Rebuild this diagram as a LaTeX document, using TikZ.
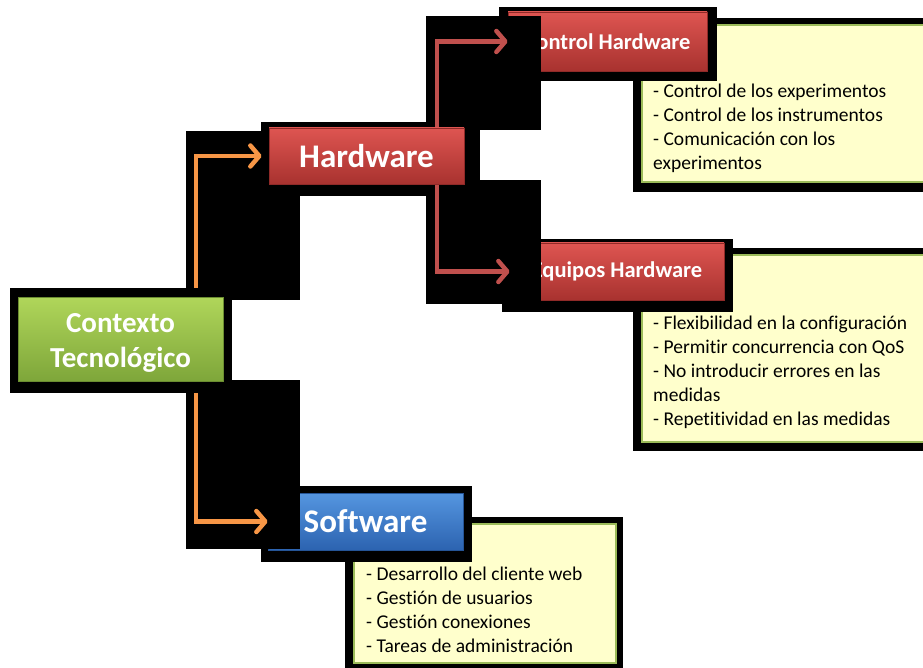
\documentclass[tikz,border=0pt]{standalone}
\usepackage{fontspec}
\setmainfont{Carlito}[RawFeature={-liga;-clig;-calt}]
\usetikzlibrary{arrows.meta}
\definecolor{ctxtop}{HTML}{B0D65A}
\definecolor{ctxbot}{HTML}{7EA63A}
\definecolor{hwtop}{HTML}{DE5551}
\definecolor{hwbot}{HTML}{A8322F}
\definecolor{swtop}{HTML}{5596E0}
\definecolor{swbot}{HTML}{2C63B0}
\definecolor{notefill}{HTML}{FFFFCC}
\definecolor{noteline}{HTML}{9BBB59}
\definecolor{orangelink}{HTML}{F79646}
\definecolor{redlink}{HTML}{C0504D}
\pgfdeclarelayer{back}
\pgfdeclarelayer{front}
\pgfsetlayers{back,main,front}

\begin{document}
\begin{tikzpicture}[x=1pt,y=-1pt,
    >={Straight Barb[length=9pt,width=21pt,line cap=round,line join=round]}]
  \tikzstyle{backdrop}=[fill=black]
  \tikzstyle{box}=[rectangle,inner sep=0pt,text=white,
                   font=\fontsize{33}{35}\selectfont\bfseries]
  \tikzstyle{green box}=[box,top color=ctxtop,bottom color=ctxbot,
                         draw=ctxbot!85!black,line width=0.8pt]
  \tikzstyle{red box}=[box,top color=hwtop,bottom color=hwbot,
                       draw=hwbot!85!black,line width=0.8pt]
  \tikzstyle{blue box}=[box,top color=swtop,bottom color=swbot,
                        draw=swbot!85!black,line width=0.8pt]
  \tikzstyle{small label}=[font=\fontsize{22.5}{26}\selectfont\bfseries]
  \tikzstyle{note}=[rectangle,fill=notefill,draw=noteline,line width=2pt,
                    inner sep=0pt,anchor=north west]
  \tikzstyle{note text}=[inner sep=0pt,anchor=north west,align=left,
                         font=\fontsize{19.5}{24}\selectfont]
  \tikzstyle{orange link}=[->,draw=orangelink,line width=4.5pt]
  \tikzstyle{red link}=[->,draw=redlink,line width=4.5pt]
  \useasboundingbox (0,0) rectangle (923,668);

  % notes and the boxes below the connectors
  \begin{pgfonlayer}{back}
    \fill[backdrop] (633,18) rectangle (940,192);
    \node[note,minimum width=300,minimum height=157] (ctrlnote) at (641,24) {};
    \node[note text] (ctrltext) at (653,84)
      {- Control de los experimentos\\- Control de los instrumentos\\
       - Comunicación con los\\experimentos};
    \fill[backdrop] (633,248) rectangle (940,451);
    \node[note,minimum width=300,minimum height=187] (eqnote) at (641,254) {};
    \node[note text] (eqtext) at (653,316)
      {- Flexibilidad en la configuración\\- Permitir concurrencia con QoS\\
       - No introducir errores en las\\medidas\\- Repetitividad en las medidas};
    \fill[backdrop] (345,517) rectangle (623,680);
    \node[note,minimum width=262,minimum height=139] (swnote) at (353,523) {};
    \node[note text] (swtext) at (366,567)
      {- Desarrollo del cliente web\\- Gestión de usuarios\\
       - Gestión conexiones\\- Tareas de administración};

    \fill[backdrop] (499,7) rectangle (717,81);
    \node[red box,small label,minimum width=199,minimum height=59] (ctrl)
      at (607.5,41.5) {Control Hardware};
    \fill[backdrop] (502,239) rectangle (733,312);
    \node[red box,small label,minimum width=214,minimum height=57] (eq)
      at (617,271.5) {Equipos Hardware};
    \fill[backdrop] (261,486) rectangle (472,562);
    \node[blue box,minimum width=195,minimum height=57] (sw)
      at (365.5,521.5) {Software};
  \end{pgfonlayer}

  % boxes above the connectors
  \begin{pgfonlayer}{front}
    \node[red box,minimum width=195,minimum height=56] (hw)
      at (366.5,156) {Hardware};
    \fill[backdrop] (10,288) rectangle (232,393);
    \node[green box,minimum width=205,minimum height=84,align=center,
          text height=62pt,font=\fontsize{29}{35}\selectfont\bfseries] (ctx)
      at (120.5,339) {Contexto\\Tecnológico};
  \end{pgfonlayer}

  % connectors
  \coordinate (otrunk) at (196,0);
  \coordinate (rtrunk) at (437,0);
  \fill[backdrop] (261,122) rectangle (480,196);
  \fill[backdrop] (186,131) rectangle (300,300);
  \fill[backdrop] (186,380) rectangle (300,549);
  \fill[backdrop] (426,16) rectangle (541,130);
  \fill[backdrop] (426,180) rectangle (541,304);
  \draw[orange link,shorten >=7pt] (ctx.north -| otrunk) |- (hw.west);
  \draw[orange link] (ctx.south -| otrunk) |- (sw.west);
  \draw[red link] (hw.north -| rtrunk) |- (ctrl.west);
  \draw[red link] (hw.south -| rtrunk) |- (eq.west);
\end{tikzpicture}
\end{document}
